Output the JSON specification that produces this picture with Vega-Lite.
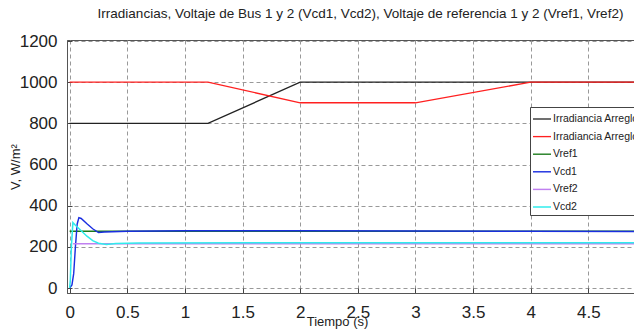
{
  "$schema": "https://vega.github.io/schema/vega-lite/v6.json",
  "width": 567,
  "height": 253,
  "autosize": {"type": "none"},
  "padding": {"left": 67, "top": 40, "right": 0, "bottom": 38},
  "background": "white",
  "title": {
    "text": "Irradiancias, Voltaje de Bus 1 y 2 (Vcd1, Vcd2), Voltaje de referencia 1 y 2 (Vref1, Vref2)",
    "font": "Liberation Sans",
    "fontSize": 13.5,
    "fontWeight": "normal",
    "color": "#222",
    "anchor": "middle",
    "dx": 10,
    "offset": 12
  },
  "config": {
    "view": {"stroke": "#555", "strokeWidth": 1},
    "font": "Liberation Sans"
  },
  "data": {
    "values": [
      {"t": 0, "v": 800, "s": "Irr1"},
      {"t": 1.2, "v": 800, "s": "Irr1"},
      {"t": 2, "v": 1000, "s": "Irr1"},
      {"t": 4.9, "v": 1000, "s": "Irr1"},
      {"t": 0, "v": 1000, "s": "Irr2"},
      {"t": 1.2, "v": 1000, "s": "Irr2"},
      {"t": 2, "v": 900, "s": "Irr2"},
      {"t": 3, "v": 900, "s": "Irr2"},
      {"t": 4, "v": 1000, "s": "Irr2"},
      {"t": 4.9, "v": 1000, "s": "Irr2"},
      {"t": 0, "v": 276, "s": "Vref1"},
      {"t": 4.9, "v": 276, "s": "Vref1"},
      {"t": 0, "v": 0, "s": "Vcd1"},
      {"t": 0.02, "v": 15, "s": "Vcd1"},
      {"t": 0.035, "v": 70, "s": "Vcd1"},
      {"t": 0.05, "v": 200, "s": "Vcd1"},
      {"t": 0.065, "v": 310, "s": "Vcd1"},
      {"t": 0.08, "v": 342, "s": "Vcd1"},
      {"t": 0.1, "v": 338, "s": "Vcd1"},
      {"t": 0.15, "v": 312, "s": "Vcd1"},
      {"t": 0.2, "v": 288, "s": "Vcd1"},
      {"t": 0.25, "v": 270, "s": "Vcd1"},
      {"t": 0.3, "v": 272, "s": "Vcd1"},
      {"t": 0.5, "v": 276, "s": "Vcd1"},
      {"t": 1, "v": 278, "s": "Vcd1"},
      {"t": 2, "v": 278, "s": "Vcd1"},
      {"t": 3, "v": 277, "s": "Vcd1"},
      {"t": 4, "v": 276, "s": "Vcd1"},
      {"t": 4.9, "v": 275, "s": "Vcd1"},
      {"t": 0.03, "v": 215, "s": "Vref2"},
      {"t": 4.9, "v": 215, "s": "Vref2"},
      {"t": 0, "v": 0, "s": "Vcd2"},
      {"t": 0.006, "v": 40, "s": "Vcd2"},
      {"t": 0.015, "v": 200, "s": "Vcd2"},
      {"t": 0.028, "v": 318, "s": "Vcd2"},
      {"t": 0.05, "v": 305, "s": "Vcd2"},
      {"t": 0.1, "v": 278, "s": "Vcd2"},
      {"t": 0.15, "v": 252, "s": "Vcd2"},
      {"t": 0.2, "v": 230, "s": "Vcd2"},
      {"t": 0.25, "v": 218, "s": "Vcd2"},
      {"t": 0.32, "v": 212, "s": "Vcd2"},
      {"t": 0.4, "v": 216, "s": "Vcd2"},
      {"t": 0.6, "v": 219, "s": "Vcd2"},
      {"t": 2, "v": 220, "s": "Vcd2"},
      {"t": 4.9, "v": 220, "s": "Vcd2"}
    ]
  },
  "mark": {"type": "line", "clip": true},
  "encoding": {
    "x": {
      "field": "t",
      "type": "quantitative",
      "scale": {"domain": [-0.023, 4.896], "nice": false, "zero": false},
      "axis": {
        "values": [0, 0.5, 1, 1.5, 2, 2.5, 3, 3.5, 4, 4.5],
        "format": "~g",
        "title": "Tiempo (s)",
        "titleFont": "Liberation Sans",
        "titleFontSize": 13,
        "titleFontWeight": "normal",
        "titleColor": "#222",
        "titlePadding": -5,
        "titleX": 270,
        "labelFont": "Liberation Sans",
        "labelFontSize": 17,
        "labelColor": "#222",
        "labelPadding": 16,
        "labelFlush": false,
        "labelOverlap": false,
        "tickSize": -5,
        "tickColor": "#444",
        "domainColor": "#555",
        "grid": true,
        "gridDash": [4, 3],
        "gridColor": "#999",
        "gridWidth": 1
      }
    },
    "y": {
      "field": "v",
      "type": "quantitative",
      "scale": {"domain": [-24, 1205], "nice": false, "zero": false},
      "axis": {
        "values": [0, 200, 400, 600, 800, 1000, 1200],
        "format": "d",
        "title": "V, W/m²",
        "titleFont": "Liberation Sans",
        "titleFontSize": 13,
        "titleFontWeight": "normal",
        "titleColor": "#222",
        "titlePadding": -3,
        "labelFont": "Liberation Sans",
        "labelFontSize": 17,
        "labelColor": "#222",
        "labelPadding": 15,
        "labelFlush": false,
        "labelOverlap": false,
        "tickSize": -5,
        "tickColor": "#444",
        "domainColor": "#555",
        "grid": true,
        "gridDash": [4, 3],
        "gridColor": "#999",
        "gridWidth": 1
      }
    },
    "color": {
      "field": "s",
      "type": "nominal",
      "scale": {
        "domain": ["Irr1", "Irr2", "Vref1", "Vcd1", "Vref2", "Vcd2"],
        "range": ["#222222", "#ff2020", "#1a7a1a", "#1a2ee0", "#c080f0", "#30ecec"]
      },
      "legend": {
        "orient": "none",
        "legendX": 463,
        "legendY": 67,
        "title": null,
        "symbolType": "stroke",
        "symbolSize": 324,
        "symbolStrokeWidth": 1.6,
        "labelFont": "Liberation Sans",
        "labelFontSize": 10.5,
        "labelColor": "#222",
        "labelOffset": 1,
        "rowPadding": 1.6,
        "padding": 2,
        "fillColor": "white",
        "strokeColor": "#444",
        "labelLimit": 200,
        "labelExpr": "datum.value == 'Irr1' || datum.value == 'Irr2' ? 'Irradiancia Arreglo' : datum.value"
      }
    },
    "strokeWidth": {
      "field": "s",
      "type": "nominal",
      "scale": {
        "domain": ["Irr1", "Irr2", "Vref1", "Vcd1", "Vref2", "Vcd2"],
        "range": [1.3, 1.5, 1.5, 2.6, 1.8, 1.8]
      },
      "legend": null
    },
    "order": {"field": "t", "type": "quantitative"}
  }
}
